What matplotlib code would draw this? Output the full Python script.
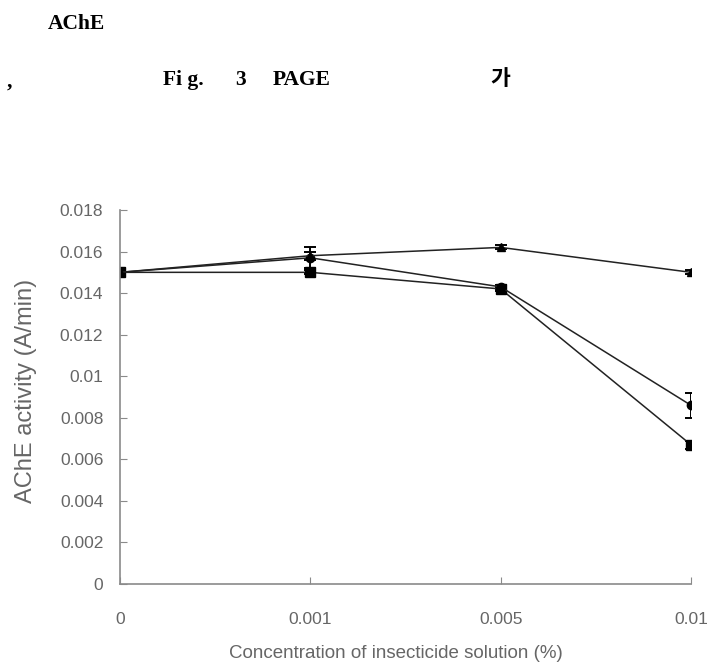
import matplotlib
matplotlib.use("Agg")
import matplotlib.pyplot as plt

# Data
concentrations = ["0", "0.001", "0.005", "0.01"]
activity_tri = [0.0150, 0.0158, 0.0162, 0.0150]
err_tri = [0.0001, 0.0002, 0.0001, 0.0001]
activity_circ = [0.0150, 0.0157, 0.0143, 0.0086]
err_circ = [0.0001, 0.0005, 0.0001, 0.0006]
activity_sq = [0.0150, 0.0150, 0.0142, 0.0067]
err_sq = [0.0002, 0.0001, 0.0001, 0.0002]
y_ticks = [0, 0.002, 0.004, 0.006, 0.008, 0.01, 0.012, 0.014, 0.016, 0.018]
y_tick_labels = ["0", "0.002", "0.004", "0.006", "0.008", "0.01", "0.012",
                 "0.014", "0.016", "0.018"]

W, H = 716, 668
fig = plt.figure(figsize=(W / 100, H / 100), dpi=100)
ax = fig.add_axes([120 / W, (H - 584) / H, (691 - 120) / W, (584 - 210) / H])

x = list(range(len(concentrations)))
line_kw = dict(color="#222222", lw=1.1, ecolor="black", elinewidth=1.4,
               capsize=4, capthick=1.4, mfc="black", mec="black")
ax.errorbar(x, activity_sq, yerr=err_sq, marker="s", ms=7, **line_kw)
ax.errorbar(x, activity_circ, yerr=err_circ, marker="o", ms=6, **line_kw)
ax.errorbar(x, activity_tri, yerr=err_tri, marker="^", ms=6, **line_kw)

ax.set_xlim(0, 3)
ax.set_ylim(0, 0.018)
ax.set_xticks(x)
ax.set_xticklabels(concentrations)
ax.set_yticks(y_ticks)
ax.set_yticklabels(y_tick_labels)

gray = "#666666"
for side in ("top", "right"):
    ax.spines[side].set_visible(False)
for side in ("left", "bottom"):
    ax.spines[side].set_color("#8a8a8a")
    ax.spines[side].set_linewidth(1.2)

ax.tick_params(axis="y", direction="in", length=5, color="#8a8a8a",
               labelcolor=gray, labelsize=12.5, pad=12)
ax.tick_params(axis="x", direction="in", length=5, color="#8a8a8a",
               labelcolor=gray, labelsize=12.5, pad=20)
for lab in ax.get_xticklabels() + ax.get_yticklabels():
    lab.set_family("Liberation Sans")

ax.set_ylabel("AChE activity (A/min)", color=gray, fontsize=17,
              family="Liberation Sans")
ax.yaxis.set_label_coords(-0.146, 0.516)
ax.set_xlabel("Concentration of insecticide solution (%)", color=gray,
              fontsize=13.5, family="Liberation Sans")
ax.xaxis.set_label_coords(0.483, -0.163)

# Header text lines
hfont = dict(family=["Liberation Serif", "Noto Sans CJK KR"],
             fontweight="bold", fontsize=15.5, color="black", va="center")
fig.text(48 / W, 1 - 24 / H, "AChE", **hfont)
fig.text(7 / W, 1 - 82 / H, ",", **hfont)
fig.text(163 / W, 1 - 80 / H, "Fi g.      3", **hfont)
fig.text(273 / W, 1 - 80 / H, "PAGE", **hfont)
fig.text(490 / W, 1 - 80 / H, "가", **hfont)

fig.savefig("out.png", dpi=100)
